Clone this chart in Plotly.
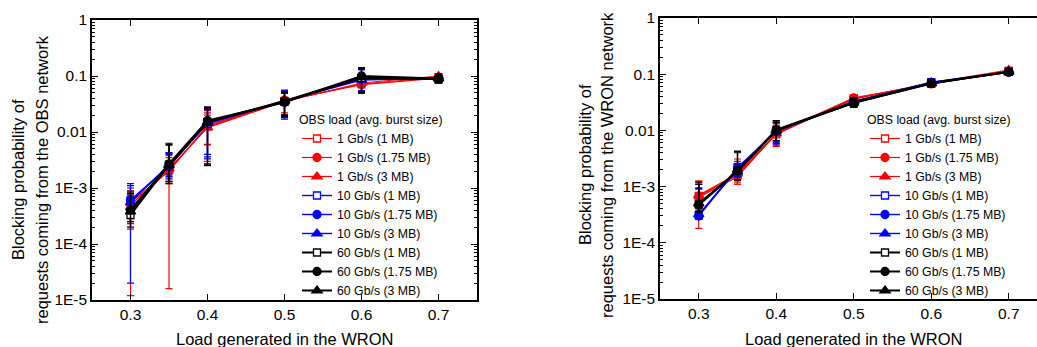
import plotly.graph_objects as go

loads = [0.3, 0.35, 0.4, 0.5, 0.6, 0.7]
series_names = ["1 Gb/s (1 MB)", "1 Gb/s (1.75 MB)", "1 Gb/s (3 MB)",
                "10 Gb/s (1 MB)", "10 Gb/s (1.75 MB)", "10 Gb/s (3 MB)",
                "60 Gb/s (1 MB)", "60 Gb/s (1.75 MB)", "60 Gb/s (3 MB)"]

# ---- Left panel: blocking of requests coming from the OBS network ----
obs_vals = [
    [5.0e-4, 2.1e-3, 0.0125, 0.036, 0.072, 0.095],
    [5.5e-4, 2.0e-3, 0.013, 0.037, 0.070, 0.092],
    [4.5e-4, 2.2e-3, 0.012, 0.035, 0.075, 0.100],
    [6.0e-4, 2.5e-3, 0.014, 0.035, 0.090, 0.088],
    [6.1e-4, 2.4e-3, 0.015, 0.034, 0.095, 0.090],
    [5.5e-4, 2.6e-3, 0.0145, 0.036, 0.085, 0.092],
    [3.3e-4, 2.6e-3, 0.015, 0.035, 0.092, 0.088],
    [4.0e-4, 2.7e-3, 0.016, 0.034, 0.100, 0.090],
    [3.8e-4, 2.5e-3, 0.015, 0.036, 0.095, 0.090],
]
obs_lo = [
    [1.2e-5, 1.6e-5, 5.9e-3, 0.020, 0.050, 0.075],
    [1.85e-4, 1.2e-3, 3.0e-3, 0.022, 0.050, 0.078],
    [2.5e-4, 1.4e-3, 6.0e-3, 0.020, 0.055, 0.080],
    [2.0e-5, 1.5e-3, 3.6e-3, 0.017, 0.050, 0.075],
    [3.0e-4, 1.6e-3, 3.3e-3, 0.018, 0.055, 0.077],
    [2.8e-4, 1.7e-3, 4.0e-3, 0.019, 0.052, 0.078],
    [2.0e-4, 1.2e-3, 2.5e-3, 0.020, 0.050, 0.075],
    [2.5e-4, 1.3e-3, 2.7e-3, 0.019, 0.052, 0.076],
    [2.3e-4, 1.3e-3, 2.6e-3, 0.020, 0.050, 0.076],
]
obs_hi = [
    [9.0e-4, 4.2e-3, 0.024, 0.055, 0.110, 0.110],
    [8.0e-4, 3.5e-3, 0.022, 0.050, 0.100, 0.105],
    [7.5e-4, 3.8e-3, 0.020, 0.052, 0.100, 0.110],
    [1.2e-3, 4.0e-3, 0.027, 0.056, 0.130, 0.105],
    [1.1e-3, 4.2e-3, 0.026, 0.054, 0.140, 0.104],
    [1.0e-3, 4.3e-3, 0.025, 0.050, 0.130, 0.106],
    [8.5e-4, 6.3e-3, 0.028, 0.052, 0.140, 0.108],
    [8.0e-4, 6.0e-3, 0.027, 0.050, 0.140, 0.107],
    [7.5e-4, 5.8e-3, 0.027, 0.050, 0.135, 0.106],
]

# ---- Right panel: blocking of requests coming from the WRON network ----
wron_vals = [
    [6.8e-4, 1.6e-3, 0.0085, 0.037, 0.068, 0.115],
    [6.5e-4, 1.5e-3, 0.0090, 0.038, 0.067, 0.113],
    [7.0e-4, 1.7e-3, 0.0088, 0.036, 0.070, 0.118],
    [3.1e-4, 2.2e-3, 0.0095, 0.032, 0.072, 0.110],
    [3.0e-4, 2.1e-3, 0.0100, 0.031, 0.070, 0.108],
    [3.2e-4, 2.0e-3, 0.0098, 0.033, 0.071, 0.110],
    [4.8e-4, 1.9e-3, 0.0100, 0.031, 0.069, 0.110],
    [4.7e-4, 1.9e-3, 0.0102, 0.032, 0.070, 0.109],
    [5.0e-4, 1.85e-3, 0.0100, 0.031, 0.068, 0.110],
]
wron_lo = [
    [1.8e-4, 1.1e-3, 5.2e-3, 0.030, 0.058, 0.100],
    [3.0e-4, 1.1e-3, 6.0e-3, 0.032, 0.058, 0.100],
    [3.5e-4, 1.2e-3, 5.5e-3, 0.031, 0.060, 0.105],
    [2.6e-4, 1.5e-3, 5.5e-3, 0.026, 0.062, 0.098],
    [2.6e-4, 1.6e-3, 6.0e-3, 0.026, 0.060, 0.097],
    [2.7e-4, 1.5e-3, 5.8e-3, 0.027, 0.061, 0.098],
    [3.5e-4, 1.3e-3, 6.5e-3, 0.026, 0.060, 0.098],
    [3.6e-4, 1.3e-3, 6.5e-3, 0.027, 0.060, 0.097],
    [3.8e-4, 1.3e-3, 6.5e-3, 0.026, 0.060, 0.098],
]
wron_hi = [
    [1.26e-3, 3.1e-3, 0.012, 0.043, 0.078, 0.130],
    [1.1e-3, 2.5e-3, 0.012, 0.043, 0.076, 0.125],
    [1.2e-3, 2.8e-3, 0.013, 0.042, 0.080, 0.130],
    [9.5e-4, 2.6e-3, 0.014, 0.038, 0.082, 0.122],
    [9.0e-4, 2.5e-3, 0.014, 0.037, 0.080, 0.120],
    [9.3e-4, 2.4e-3, 0.0135, 0.038, 0.081, 0.121],
    [1.2e-3, 4.3e-3, 0.015, 0.037, 0.080, 0.120],
    [1.1e-3, 4.2e-3, 0.015, 0.037, 0.079, 0.120],
    [1.1e-3, 4.0e-3, 0.014, 0.036, 0.078, 0.120],
]

y_tickvals = [1e-5, 1e-4, 1e-3, 1e-2, 1e-1, 1]
y_ticktext = ["1E-5", "1E-4", "1E-3", "0.01", "0.1", "1"]
x_tickvals = [0.3, 0.4, 0.5, 0.6, 0.7]

colors = ["#ff0000"] * 3 + ["#0000ff"] * 3 + ["#000000"] * 3
line_w = [1.2] * 3 + [1.4] * 3 + [2.0] * 3
symbols = ["square-open", "circle", "triangle-up"] * 3
sizes = [7, 8, 9] * 3

W, H = 1037, 347
FONT = "Liberation Sans, Arial, sans-serif"

fig = go.Figure()


def add_panel(vals, lo, hi, xa, ya, legend):
    for i, name in enumerate(series_names):
        y = vals[i]
        plus = [h - v for h, v in zip(hi[i], y)]
        minus = [v - l for v, l in zip(y, lo[i])]
        sym = symbols[i]
        fig.add_trace(go.Scatter(
            x=loads, y=y, name=name, mode="lines+markers",
            xaxis=xa, yaxis=ya, legend=legend,
            line=dict(color=colors[i], width=line_w[i]),
            marker=dict(symbol="square" if sym == "square-open" else sym,
                        size=sizes[i],
                        color="white" if sym == "square-open" else colors[i],
                        line=dict(color=colors[i], width=1.3)),
            error_y=dict(type="data", symmetric=False, array=plus,
                         arrayminus=minus, color=colors[i], thickness=1.2,
                         width=3.5),
        ))


add_panel(obs_vals, obs_lo, obs_hi, "x", "y", "legend")
add_panel(wron_vals, wron_lo, wron_hi, "x2", "y2", "legend2")

minor_vals = [k * 10.0 ** e for e in range(-5, 0) for k in range(2, 10)]

common_x = dict(tickmode="array", tickvals=x_tickvals, ticks="inside",
                ticklen=6, tickwidth=1.2, tickcolor="black", showline=True,
                linecolor="black", linewidth=1.5, showgrid=False,
                zeroline=False, automargin=False,
                tickfont=dict(family=FONT, size=15.5, color="black"))
common_y = dict(type="log", range=[-5, 0], tickmode="array",
                tickvals=y_tickvals, ticktext=y_ticktext, ticks="inside",
                ticklen=6, tickwidth=1.2, tickcolor="black", showline=True,
                linecolor="black", linewidth=1.5, showgrid=False,
                zeroline=False, automargin=False,
                minor=dict(tickmode="array", tickvals=minor_vals,
                           ticks="inside", ticklen=3, tickwidth=1,
                           tickcolor="black", showgrid=False),
                tickfont=dict(family=FONT, size=15.5, color="black"))

LEG_FONT = 12.3
fig.update_layout(
    template="none",
    width=W, height=H,
    margin=dict(l=0, r=0, t=0, b=0, autoexpand=False),
    paper_bgcolor="white", plot_bgcolor="white",
    font=dict(family=FONT, color="black"),
    showlegend=True,
    xaxis=dict(common_x, domain=[92 / W, 477 / W], range=[0.25, 0.75],
               anchor="y", mirror="allticks"),
    yaxis=dict(common_y, domain=[(H - 300) / H, (H - 20) / H], anchor="x",
               mirror="allticks"),
    xaxis2=dict(common_x, domain=[660 / W, 1.0], range=[0.25, 0.25 + 377 / 775],
                anchor="y2", mirror="allticks"),
    yaxis2=dict(common_y, domain=[(H - 299) / H, (H - 18) / H], anchor="x2",
                mirror=False),
    legend=dict(x=297 / W, y=(H - 108) / H, xanchor="left", yanchor="top",
                bgcolor="rgba(0,0,0,0)", borderwidth=0, traceorder="normal",
                font=dict(family=FONT, size=LEG_FONT, color="black"),
                title=dict(text="OBS load (avg. burst size)",
                           font=dict(family=FONT, size=LEG_FONT, color="black"))),
    legend2=dict(x=865 / W, y=(H - 108) / H, xanchor="left", yanchor="top",
                 bgcolor="rgba(0,0,0,0)", borderwidth=0, traceorder="normal",
                 font=dict(family=FONT, size=LEG_FONT, color="black"),
                 title=dict(text="OBS load (avg. burst size)",
                            font=dict(family=FONT, size=LEG_FONT, color="black"))),
)

title_font = dict(family=FONT, size=16.5, color="black")
annos = [
    dict(text="Load generated in the WRON", x=0.5, xref="x", y=(H - 339) / H,
         yref="paper", showarrow=False, xanchor="center", yanchor="middle",
         font=title_font),
    dict(text="Load generated in the WRON", x=0.5, xref="x2", y=(H - 339) / H,
         yref="paper", showarrow=False, xanchor="center", yanchor="middle",
         font=title_font),
    dict(text="Blocking probability of", x=18 / W, xref="paper",
         y=(H - 180) / H, yref="paper", textangle=-90, showarrow=False,
         xanchor="center", yanchor="middle", font=title_font),
    dict(text="requests coming from the OBS network", x=42 / W, xref="paper",
         y=(H - 180) / H, yref="paper", textangle=-90, showarrow=False,
         xanchor="center", yanchor="middle", font=title_font),
    dict(text="Blocking probability of", x=585 / W, xref="paper",
         y=(H - 165) / H, yref="paper", textangle=-90, showarrow=False,
         xanchor="center", yanchor="middle", font=title_font),
    dict(text="requests coming from the WRON network", x=607 / W, xref="paper",
         y=(H - 165) / H, yref="paper", textangle=-90, showarrow=False,
         xanchor="center", yanchor="middle", font=title_font),
]
fig.update_layout(annotations=annos)

fig.write_html(
    "out.html",
    config={"displayModeBar": False},
    post_script="document.body.style.margin='0';document.body.style.overflow='hidden';",
)
